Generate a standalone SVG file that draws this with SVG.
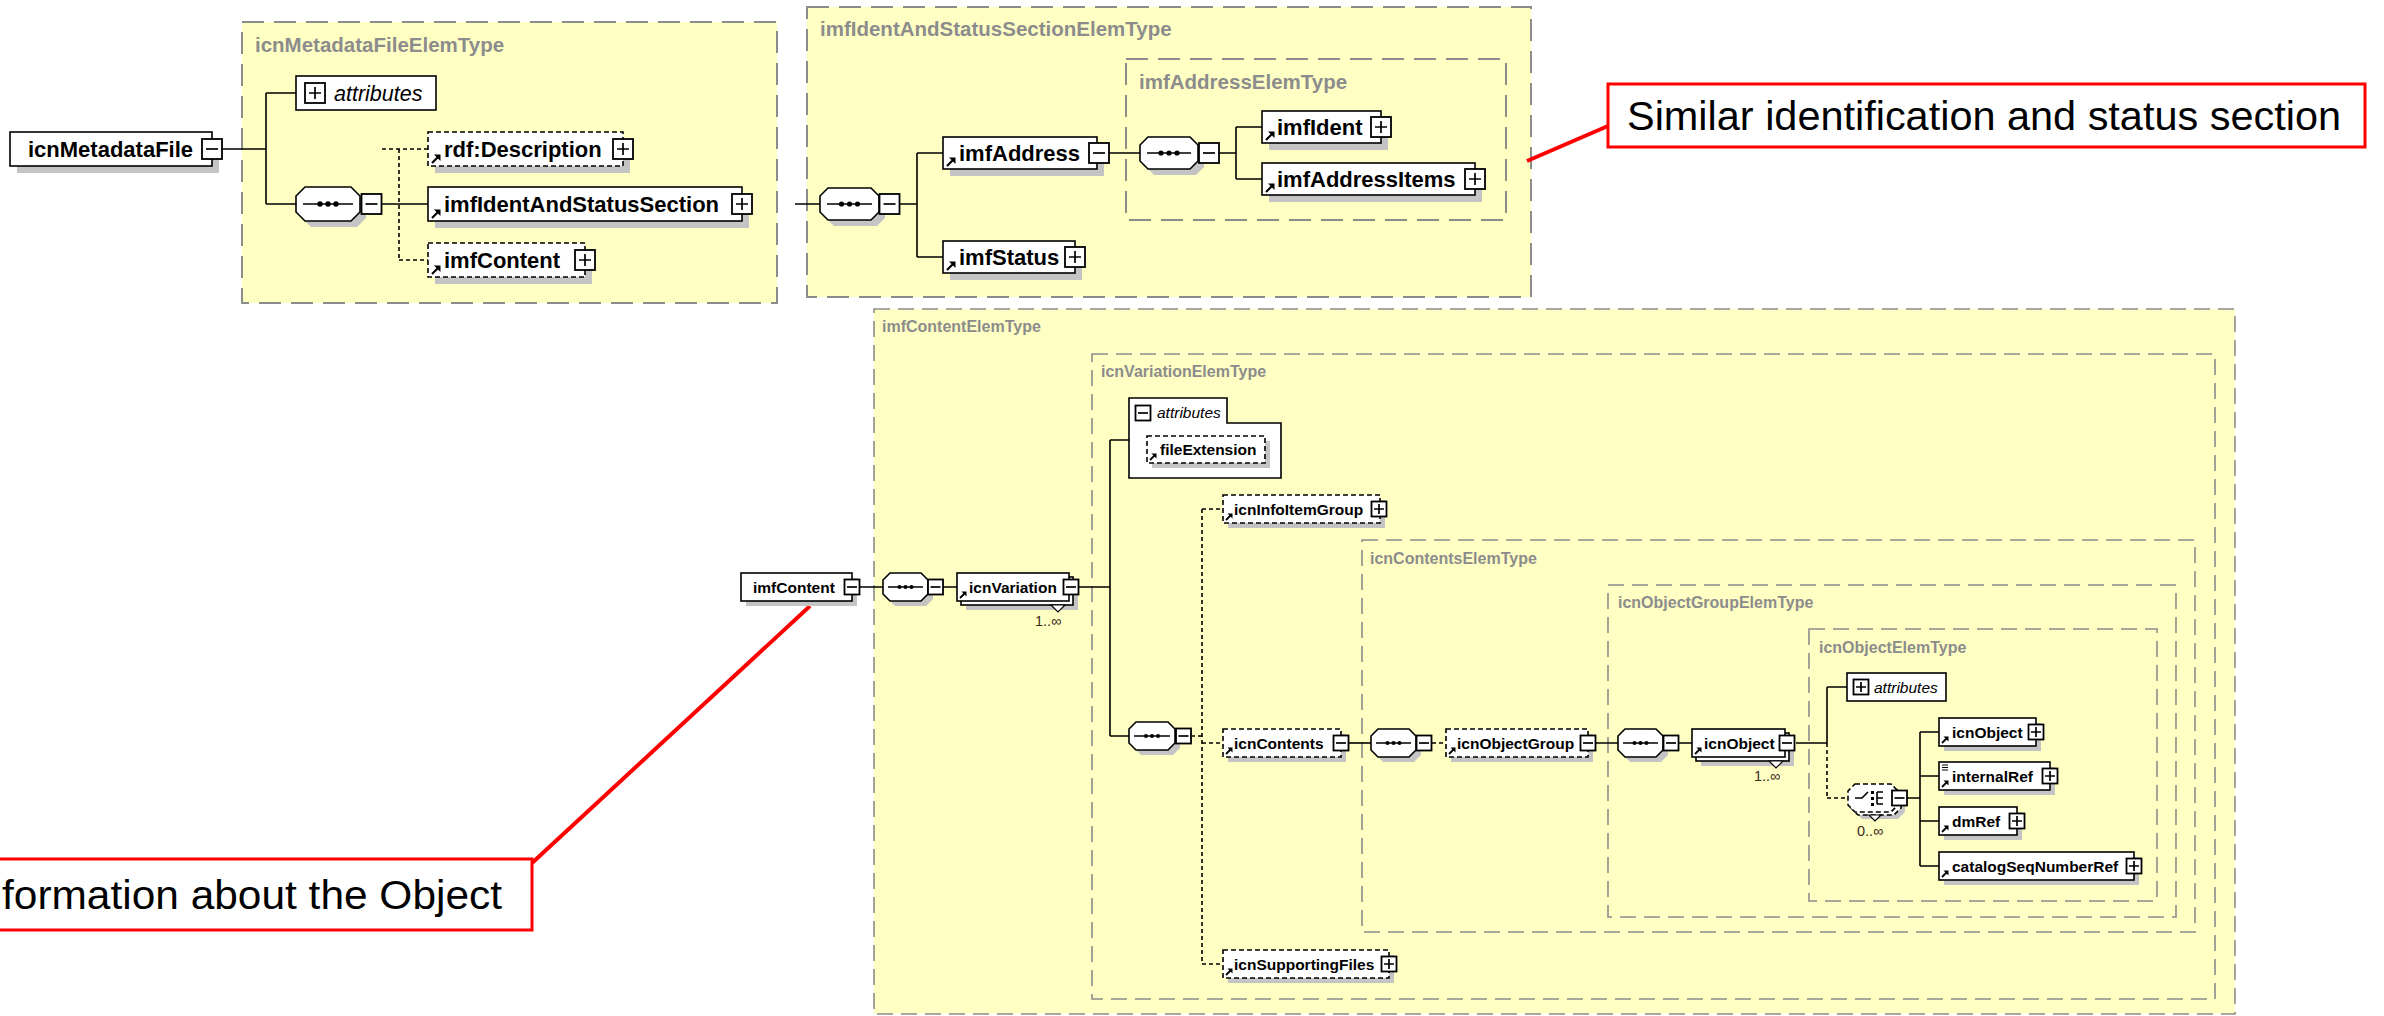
<svg xmlns="http://www.w3.org/2000/svg" xmlns:xlink="http://www.w3.org/1999/xlink" width="2384" height="1016" viewBox="0 0 2384 1016">
<style>
.ctT{fill:#ffffc4;stroke:#8c8c8c;stroke-width:2;stroke-dasharray:22 10}
.ctL{fill:#ffffc4;stroke:#8c8c8c;stroke-width:1.6;stroke-dasharray:16 8}
.lbl{font-family:"Liberation Sans",Arial,sans-serif;font-weight:bold;fill:#8c8c8c}
.lT{font-size:20.5px}
.lL{font-size:16px}
.box{fill:#fff;stroke:#000;stroke-width:1.6}
.opt{stroke-dasharray:5 3}
.sh{fill:#c4c4c4}
.t{font-family:"Liberation Sans",Arial,sans-serif;font-weight:bold;fill:#000}
.tT{font-size:22px}
.tL{font-size:15.5px}
.it{font-family:"Liberation Sans",Arial,sans-serif;font-style:italic;fill:#000}
.occ{font-family:"Liberation Sans",Arial,sans-serif;font-size:14.5px;fill:#3a2a1a}
.ln{stroke:#000;stroke-width:1.6;fill:none}
.dl{stroke-dasharray:4 3}
.pmb{fill:#fff;stroke:#000;stroke-width:1.8}
.pml{stroke:#000;stroke-width:1.7;fill:none}
.oct{fill:#fff;stroke:#000;stroke-width:1.6}
.red{stroke:#f00;stroke-width:4;fill:none}
.cbox{fill:#fff;stroke:#f00;stroke-width:3}
.ct{font-family:"Liberation Sans",Arial,sans-serif;font-size:40px;fill:#000}
</style>
<defs>
<g id="pT"><rect x="-10" y="-10" width="20" height="20" class="pmb"/><path d="M-6 0H6M0-6V6" class="pml"/></g>
<g id="mT"><rect x="-10" y="-10" width="20" height="20" class="pmb"/><path d="M-6 0H6" class="pml"/></g>
<g id="pL"><rect x="-7.5" y="-7.5" width="15" height="15" class="pmb"/><path d="M-5 0H5M0-5V5" class="pml"/></g>
<g id="mL"><rect x="-7.5" y="-7.5" width="15" height="15" class="pmb"/><path d="M-5 0H5" class="pml"/></g>
<g id="raT"><path d="M0 0L6-6" stroke="#000" stroke-width="2.2"/><path d="M2-8.5H8.5V-2Z" fill="#000"/></g>
<g id="raL"><path d="M0 0L4.5-4.5" stroke="#000" stroke-width="1.8"/><path d="M1.5-6.5H6.5V-1.5Z" fill="#000"/></g>
</defs>
<rect width="2384" height="1016" fill="#fff"/>

<g id="containers">
<rect class="ctT" x="242" y="22" width="535" height="281"/>
<text class="lbl lT" x="255" y="52">icnMetadataFileElemType</text>
<rect class="ctT" x="807" y="7" width="724" height="290"/>
<text class="lbl lT" x="820" y="36">imfIdentAndStatusSectionElemType</text>
<rect class="ctT" x="1126" y="59" width="380" height="161"/>
<text class="lbl lT" x="1139" y="89">imfAddressElemType</text>
<rect class="ctL" x="874" y="309" width="1361" height="705"/>
<text class="lbl lL" x="882" y="332">imfContentElemType</text>
<rect class="ctL" x="1092" y="354" width="1123" height="645"/>
<text class="lbl lL" x="1101" y="377">icnVariationElemType</text>
<rect class="ctL" x="1362" y="540" width="833" height="392"/>
<text class="lbl lL" x="1370" y="564">icnContentsElemType</text>
<rect class="ctL" x="1608" y="585" width="568" height="332"/>
<text class="lbl lL" x="1618" y="608">icnObjectGroupElemType</text>
<rect class="ctL" x="1809" y="629" width="348" height="272"/>
<text class="lbl lL" x="1819" y="653">icnObjectElemType</text>
</g>

<g id="connectors">
<path class="ln" d="M222 149H266M266 93V204M266 93H296M266 204H296M382 204H428"/>
<path class="ln dl" d="M399 149V260M382 149H428M399 260H428"/>
<path class="ln" d="M795 204H820M900 204H917M917 153V257M917 153H943M917 257H943M1109 153H1140M1219 153H1236M1236 127V179M1236 127H1262M1236 179H1262"/>
<path class="ln" d="M859 587H883M943 587H957M1079 587H1110M1110 440V736M1110 440H1129M1110 736H1129"/>
<path class="ln dl" d="M1191 736H1202M1202 509V964M1202 509H1223M1202 743H1223M1202 964H1223"/>
<path class="ln" d="M1349 743H1371"/>
<path class="ln dl" d="M1432 743H1446"/>
<path class="ln" d="M1596 743H1618M1679 743H1692M1796 743H1827M1827 687V743M1827 687H1847"/>
<path class="ln dl" d="M1827 743V798M1827 798H1848"/>
<path class="ln" d="M1907 798H1920M1920 732V866M1920 732H1939M1920 776H1939M1920 821H1939M1920 866H1939"/>
<path class="red" d="M1527 161L1608 126"/>
<path class="red" d="M532 863L810 606"/>
</g>

<g id="icnMetadataFile">
<rect class="sh" x="17" y="139" width="202" height="34"/>
<rect class="box" x="10" y="132" width="202" height="34"/>
<text class="t tT" x="28" y="157">icnMetadataFile</text>
<use href="#mT" x="212" y="149"/>
</g>
<g id="attributes1">
<rect class="box" x="296" y="76" width="140" height="34"/>
<use href="#pT" x="315" y="93"/>
<text class="it" font-size="21.5" x="334" y="101">attributes</text>
</g>
<g id="seq1">
<polygon class="sh" points="311,193 357,193 366,202 366,218 357,227 311,227 302,218 302,202"/>
<polygon class="oct" points="305,187 351,187 360,196 360,212 351,221 305,221 296,212 296,196"/>
<path class="ln" d="M303 204H353"/>
<circle cx="320" cy="204" r="2.7"/><circle cx="328" cy="204" r="2.7"/><circle cx="336" cy="204" r="2.7"/>
<use href="#mT" x="371.5" y="204"/>
</g>
<g id="rdfDescription">
<rect class="sh" x="435" y="139" width="195" height="34"/>
<rect class="box opt" x="428" y="132" width="195" height="34"/>
<use href="#raT" x="432" y="163"/>
<text class="t tT" x="444" y="157">rdf:Description</text>
<use href="#pT" x="623" y="149"/>
</g>
<g id="imfIdentAndStatusSection">
<rect class="sh" x="435" y="194" width="314" height="34"/>
<rect class="box" x="428" y="187" width="314" height="34"/>
<use href="#raT" x="432" y="218"/>
<text class="t tT" x="444" y="212">imfIdentAndStatusSection</text>
<use href="#pT" x="742" y="204"/>
</g>
<g id="imfContent1">
<rect class="sh" x="435" y="250" width="157" height="34"/>
<rect class="box opt" x="428" y="243" width="157" height="34"/>
<use href="#raT" x="432" y="274"/>
<text class="t tT" x="444" y="268">imfContent</text>
<use href="#pT" x="585" y="260"/>
</g>

<g id="seq2">
<polygon class="sh" points="834,194 877,194 885,202 885,218 877,226 834,226 826,218 826,202"/>
<polygon class="oct" points="828,188 871,188 879,196 879,212 871,220 828,220 820,212 820,196"/>
<path class="ln" d="M827 204H872"/>
<circle cx="841.5" cy="204" r="2.6"/><circle cx="849.5" cy="204" r="2.6"/><circle cx="857.5" cy="204" r="2.6"/>
<use href="#mT" x="889.5" y="204"/>
</g>
<g id="imfAddress">
<rect class="sh" x="950" y="144" width="154" height="32"/>
<rect class="box" x="943" y="137" width="154" height="32"/>
<use href="#raT" x="947" y="166"/>
<text class="t tT" x="959" y="161">imfAddress</text>
<use href="#mT" x="1099" y="153"/>
</g>
<g id="seq3">
<polygon class="sh" points="1154,143 1196,143 1204,151 1204,167 1196,175 1154,175 1146,167 1146,151"/>
<polygon class="oct" points="1148,137 1190,137 1198,145 1198,161 1190,169 1148,169 1140,161 1140,145"/>
<path class="ln" d="M1147 153H1191"/>
<circle cx="1161" cy="153" r="2.6"/><circle cx="1169" cy="153" r="2.6"/><circle cx="1177" cy="153" r="2.6"/>
<use href="#mT" x="1209" y="153"/>
</g>
<g id="imfIdent">
<rect class="sh" x="1269" y="118" width="119" height="32"/>
<rect class="box" x="1262" y="111" width="119" height="32"/>
<use href="#raT" x="1266" y="140"/>
<text class="t tT" x="1277" y="135">imfIdent</text>
<use href="#pT" x="1381" y="127"/>
</g>
<g id="imfAddressItems">
<rect class="sh" x="1269" y="170" width="213" height="32"/>
<rect class="box" x="1262" y="163" width="213" height="32"/>
<use href="#raT" x="1266" y="192"/>
<text class="t tT" x="1277" y="187">imfAddressItems</text>
<use href="#pT" x="1475" y="179"/>
</g>
<g id="imfStatus">
<rect class="sh" x="950" y="248" width="132" height="32"/>
<rect class="box" x="943" y="241" width="132" height="32"/>
<use href="#raT" x="947" y="270"/>
<text class="t tT" x="959" y="265">imfStatus</text>
<use href="#pT" x="1075" y="257"/>
</g>

<g id="imfContent2">
<rect class="sh" x="746" y="578" width="111" height="28"/>
<rect class="box" x="741" y="573" width="111" height="28"/>
<text class="t tL" x="753" y="593">imfContent</text>
<use href="#mL" x="852" y="587"/>
</g>
<g id="seq4">
<polygon class="sh" points="895,578 926,578 933,585 933,599 926,606 895,606 888,599 888,585"/>
<polygon class="oct" points="890,573 921,573 928,580 928,594 921,601 890,601 883,594 883,580"/>
<path class="ln" d="M888 587H923"/>
<circle cx="899.5" cy="587" r="2"/><circle cx="905.5" cy="587" r="2"/><circle cx="911.5" cy="587" r="2"/>
<use href="#mL" x="935.5" y="587"/>
</g>
<g id="icnVariation">
<rect class="sh" x="966" y="582" width="112" height="28"/>
<rect class="box" x="961" y="577" width="112" height="28"/>
<rect class="box" x="957" y="573" width="112" height="28"/>
<path d="M1051 605H1065L1058 612Z" fill="#fff" stroke="#000" stroke-width="1.2"/>
<use href="#raL" x="960" y="598"/>
<text class="t tL" x="969" y="593">icnVariation</text>
<use href="#mL" x="1071" y="587"/>
<text class="occ" x="1035" y="626">1..∞</text>
</g>
<g id="attributes2">
<polygon class="box" points="1129,398 1227,398 1227,423 1281,423 1281,478 1129,478"/>
<use href="#mL" x="1143" y="413"/>
<text class="it" font-size="15.5" x="1157" y="418">attributes</text>
</g>
<g id="fileExtension">
<rect class="sh" x="1152" y="441" width="118" height="27"/>
<rect class="box opt" x="1147" y="436" width="118" height="27"/>
<use href="#raL" x="1150" y="460"/>
<text class="t tL" x="1160" y="455">fileExtension</text>
</g>
<g id="seq5">
<polygon class="sh" points="1141,727 1173,727 1180,734 1180,748 1173,755 1141,755 1134,748 1134,734"/>
<polygon class="oct" points="1136,722 1168,722 1175,729 1175,743 1168,750 1136,750 1129,743 1129,729"/>
<path class="ln" d="M1134 736H1170"/>
<circle cx="1146" cy="736" r="2"/><circle cx="1152" cy="736" r="2"/><circle cx="1158" cy="736" r="2"/>
<use href="#mL" x="1183.5" y="736"/>
</g>
<g id="icnInfoItemGroup">
<rect class="sh" x="1228" y="500" width="157" height="28"/>
<rect class="box opt" x="1223" y="495" width="157" height="28"/>
<use href="#raL" x="1226" y="520"/>
<text class="t tL" x="1234" y="515">icnInfoItemGroup</text>
<use href="#pL" x="1379" y="509"/>
</g>
<g id="icnContents">
<rect class="sh" x="1228" y="734" width="118" height="28"/>
<rect class="box opt" x="1223" y="729" width="118" height="28"/>
<use href="#raL" x="1226" y="754"/>
<text class="t tL" x="1234" y="749">icnContents</text>
<use href="#mL" x="1341" y="743"/>
</g>
<g id="icnSupportingFiles">
<rect class="sh" x="1228" y="955" width="166" height="28"/>
<rect class="box opt" x="1223" y="950" width="166" height="28"/>
<use href="#raL" x="1226" y="975"/>
<text class="t tL" x="1234" y="970">icnSupportingFiles</text>
<use href="#pL" x="1389" y="964"/>
</g>
<g id="seq6">
<polygon class="sh" points="1383,734 1414,734 1421,741 1421,755 1414,762 1383,762 1376,755 1376,741"/>
<polygon class="oct" points="1378,729 1409,729 1416,736 1416,750 1409,757 1378,757 1371,750 1371,736"/>
<path class="ln" d="M1376 743H1411"/>
<circle cx="1387.5" cy="743" r="2"/><circle cx="1393.5" cy="743" r="2"/><circle cx="1399.5" cy="743" r="2"/>
<use href="#mL" x="1424" y="743"/>
</g>
<g id="icnObjectGroup">
<rect class="sh" x="1451" y="734" width="142" height="28"/>
<rect class="box opt" x="1446" y="729" width="142" height="28"/>
<use href="#raL" x="1449" y="754"/>
<text class="t tL" x="1457" y="749">icnObjectGroup</text>
<use href="#mL" x="1588" y="743"/>
</g>
<g id="seq7">
<polygon class="sh" points="1630,734 1661,734 1668,741 1668,755 1661,762 1630,762 1623,755 1623,741"/>
<polygon class="oct" points="1625,729 1656,729 1663,736 1663,750 1656,757 1625,757 1618,750 1618,736"/>
<path class="ln" d="M1623 743H1658"/>
<circle cx="1634.5" cy="743" r="2"/><circle cx="1640.5" cy="743" r="2"/><circle cx="1646.5" cy="743" r="2"/>
<use href="#mL" x="1671" y="743"/>
</g>
<g id="icnObject">
<rect class="sh" x="1701" y="738" width="93" height="28"/>
<rect class="box" x="1696" y="733" width="93" height="28"/>
<rect class="box" x="1692" y="729" width="93" height="28"/>
<path d="M1769 761H1783L1776 768Z" fill="#fff" stroke="#000" stroke-width="1.2"/>
<use href="#raL" x="1695" y="754"/>
<text class="t tL" x="1704" y="749">icnObject</text>
<use href="#mL" x="1787" y="743"/>
<text class="occ" x="1754" y="781">1..∞</text>
</g>
<g id="attributes3">
<rect class="box" x="1847" y="673" width="99" height="28"/>
<use href="#pL" x="1861" y="687"/>
<text class="it" font-size="15.5" x="1874" y="693">attributes</text>
</g>
<g id="choice">
<polygon class="sh" points="1862,791 1898,791 1905,798 1905,812 1898,819 1862,819 1855,812 1855,798"/>
<polygon class="oct opt" points="1858,787 1894,787 1901,794 1901,808 1894,815 1858,815 1851,808 1851,794"/>
<polygon class="oct opt" points="1855,784 1891,784 1898,791 1898,805 1891,812 1855,812 1848,805 1848,791"/>
<path d="M1869 815H1881L1875 821Z" fill="#fff" stroke="#000" stroke-width="1.2"/>
<path class="ln" d="M1855 798H1862L1868 792M1877 792V804M1877 792H1883M1877 798H1883M1877 804H1883"/>
<rect x="1871" y="791" width="3" height="3"/><rect x="1871" y="797" width="3" height="3"/><rect x="1871" y="803" width="3" height="3"/>
<use href="#mL" x="1899.5" y="798"/>
<text class="occ" x="1857" y="836">0..∞</text>
</g>
<g id="icnObjectChild">
<rect class="sh" x="1944" y="723" width="97" height="28"/>
<rect class="box" x="1939" y="718" width="97" height="28"/>
<use href="#raL" x="1942" y="743"/>
<text class="t tL" x="1952" y="738">icnObject</text>
<use href="#pL" x="2036" y="732"/>
</g>
<g id="internalRef">
<rect class="sh" x="1944" y="767" width="111" height="28"/>
<rect class="box" x="1939" y="762" width="111" height="28"/>
<path d="M1942 765H1948M1942 767.5H1948M1942 770H1948" stroke="#000" stroke-width="1"/>
<use href="#raL" x="1942" y="787"/>
<text class="t tL" x="1952" y="782">internalRef</text>
<use href="#pL" x="2050" y="776"/>
</g>
<g id="dmRef">
<rect class="sh" x="1944" y="812" width="78" height="28"/>
<rect class="box" x="1939" y="807" width="78" height="28"/>
<use href="#raL" x="1942" y="832"/>
<text class="t tL" x="1952" y="827">dmRef</text>
<use href="#pL" x="2017" y="821"/>
</g>
<g id="catalogSeqNumberRef">
<rect class="sh" x="1944" y="857" width="195" height="28"/>
<rect class="box" x="1939" y="852" width="195" height="28"/>
<use href="#raL" x="1942" y="877"/>
<text class="t tL" x="1952" y="872">catalogSeqNumberRef</text>
<use href="#pL" x="2134" y="866"/>
</g>

<g id="callout1">
<rect class="cbox" x="1608" y="84" width="757" height="63"/>
<text class="ct" x="1627" y="130" textLength="714" lengthAdjust="spacingAndGlyphs">Similar identification and status section</text>
</g>
<g id="callout2">
<rect class="cbox" x="-10" y="859" width="542" height="71"/>
<text class="ct" x="2" y="909" textLength="500" lengthAdjust="spacingAndGlyphs">formation about the Object</text>
</g>
</svg>
